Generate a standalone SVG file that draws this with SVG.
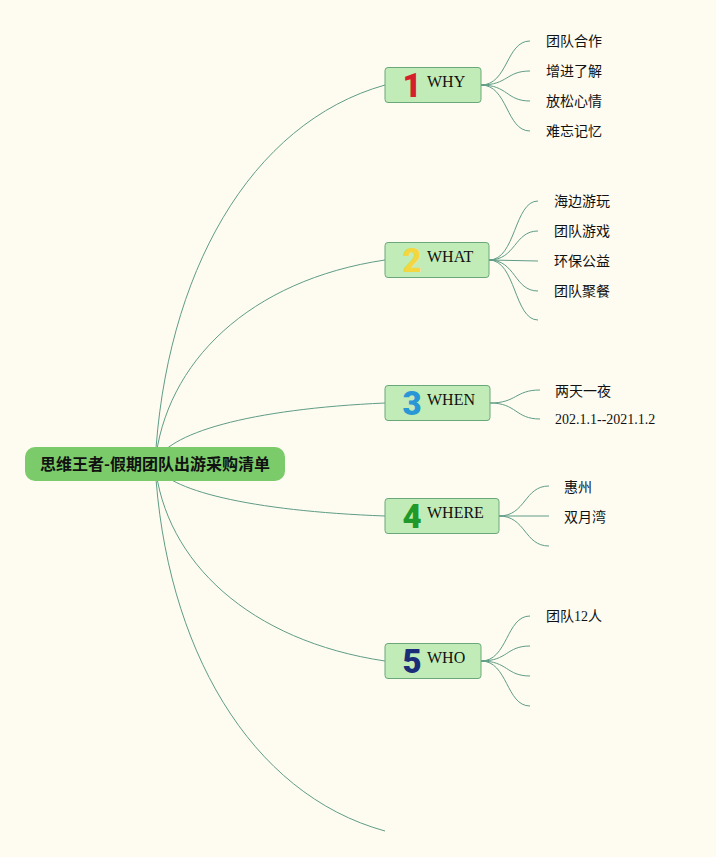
<svg xmlns="http://www.w3.org/2000/svg" width="716" height="857" viewBox="0 0 716 857">
<style>
.bg{fill:#fefcf1}
.ln{fill:none;stroke:#5f9c86;stroke-width:1}
.box{fill:#c1ecb7;stroke:#6aa87a;stroke-width:1}
.root{fill:#7ccb6b}
.rt{font-family:"Noto Sans CJK SC","Noto Sans",sans-serif;font-size:16px;font-weight:bold;fill:#111}
.lab{font-family:"Liberation Serif","Times New Roman",serif;font-size:16px;fill:#111}
.num{font-family:"Roboto","Open Sans",sans-serif;font-size:33px;font-weight:900;text-anchor:middle}
.ch{font-family:"Liberation Serif","Noto Sans CJK SC",serif;font-size:14px;fill:#111}
</style>
<rect class="bg" x="0" y="0" width="716" height="857"/>
<g id="connectors">
<path class="ln" d="M155,464 C165,274 250,123 385,85"/>
<path class="ln" d="M155,464 C165,362 250,280 385,260"/>
<path class="ln" d="M155,464 C165,433 250,409 385,403"/>
<path class="ln" d="M155,464 C165,490 250,511 385,516"/>
<path class="ln" d="M155,464 C165,562 250,641 385,661"/>
<path class="ln" d="M155,464 C165,647 250,794 385,831"/>
<path class="ln" d="M481,85 C508,85 506,41 530,41 M481,85 C508,85 506,71 530,71 M481,85 C508,85 506,101 530,101 M481,85 C508,85 506,131 530,131"/>
<path class="ln" d="M489,260 C516,260 514,201 538,201 M489,260 C516,260 514,231 538,231 M489,260 L538,261 M489,260 C516,260 514,291 538,291 M489,260 C516,260 514,320 538,320"/>
<path class="ln" d="M490,403 C517,403 515,390 540,390 M490,403 C517,403 515,419 540,419"/>
<path class="ln" d="M499,516 C526,516 524,486 549,486 M499,516 L549,516 M499,516 C526,516 524,546 549,546"/>
<path class="ln" d="M481,661 C508,661 506,616 530,616 M481,661 C508,661 506,646 530,646 M481,661 C508,661 506,676 530,676 M481,661 C508,661 506,706 530,706"/>
</g>
<g id="root">
<rect class="root" x="25" y="447" width="260" height="34" rx="10"/>
<text class="rt" x="155" y="470" text-anchor="middle">思维王者-假期团队出游采购清单</text>
</g>
<g id="why">
<rect class="box" x="385" y="67.5" width="96" height="35" rx="3"/>
<text class="num" x="412" y="97" fill="#d61f2c">1</text>
<text class="lab" x="427" y="87">WHY</text>
</g>
<g id="what">
<rect class="box" x="385" y="242.5" width="104" height="35" rx="3"/>
<text class="num" x="412" y="272" fill="#f4d640">2</text>
<text class="lab" x="427" y="262">WHAT</text>
</g>
<g id="when">
<rect class="box" x="385" y="385.5" width="105" height="35" rx="3"/>
<text class="num" x="412" y="415" fill="#2997d6">3</text>
<text class="lab" x="427" y="405">WHEN</text>
</g>
<g id="where">
<rect class="box" x="385" y="498.5" width="114" height="35" rx="3"/>
<text class="num" x="412" y="528" fill="#1f9a2a">4</text>
<text class="lab" x="427" y="518">WHERE</text>
</g>
<g id="who">
<rect class="box" x="385" y="643.5" width="96" height="35" rx="3"/>
<text class="num" x="412" y="673" fill="#1b2d78">5</text>
<text class="lab" x="427" y="663">WHO</text>
</g>
<g id="why-children">
<text class="ch" x="546" y="46">团队合作</text>
<text class="ch" x="546" y="76">增进了解</text>
<text class="ch" x="546" y="106">放松心情</text>
<text class="ch" x="546" y="136">难忘记忆</text>
</g>
<g id="what-children">
<text class="ch" x="554" y="206">海边游玩</text>
<text class="ch" x="554" y="236">团队游戏</text>
<text class="ch" x="554" y="266">环保公益</text>
<text class="ch" x="554" y="296">团队聚餐</text>
</g>
<g id="when-children">
<text class="ch" x="555" y="396">两天一夜</text>
<text class="ch" x="555" y="424">202.1.1--2021.1.2</text>
</g>
<g id="where-children">
<text class="ch" x="564" y="492">惠州</text>
<text class="ch" x="564" y="522">双月湾</text>
</g>
<g id="who-children">
<text class="ch" x="546" y="621">团队12人</text>
</g>
</svg>
